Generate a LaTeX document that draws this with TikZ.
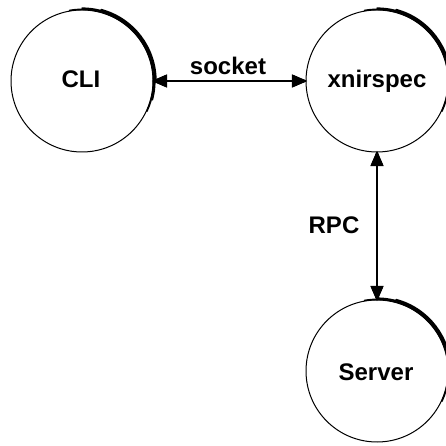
\documentclass[tikz,border=0pt]{standalone}
\usepackage{fontspec}
\setmainfont{Liberation Sans}
\tikzset{
  proc/.style={circle, draw=black, line width=1pt, minimum size=142pt, inner sep=0pt},
  rim/.style={line width=1.6pt, line cap=round, draw=black},
  lbl/.style={font=\fontsize{24}{28}\selectfont\bfseries, anchor=base, inner sep=0pt},
  link/.style={line width=2pt, draw=black},
  headline/.style={line width=1.3pt, draw=black}
}
% heavy, tapering rim on the upper right of a process
\newcommand\procrim[1]{%
  \draw[rim] (#1.center) ++(100:71.6) arc[start angle=100, end angle=-25, radius=71.6];
  \draw[rim] (#1.center) ++(90:72.8) arc[start angle=90, end angle=-15, radius=72.8];
  \draw[rim] (#1.center) ++(75:73.9) arc[start angle=75, end angle=0, radius=73.9];
}
% solid arrowhead built from strokes: tip at #1, pointing towards angle #2
\newcommand\arrowhd[2]{%
  \begin{scope}[shift={(#1)}, rotate=#2]
    \foreach \w in {-6,-5,...,6} \draw[headline] (0,0) -- (-13,\w*0.95);
    \draw[headline, line join=miter] (0,0) -- (-13,5.7) -- (-13,-5.7) -- cycle;
  \end{scope}
}
\begin{document}
\begin{tikzpicture}[x=1pt,y=1pt]
\path[use as bounding box] (0,0) rectangle (445,446);
\node[proc] (cli) at (82,365) {};
\node[proc] (xn) at (377,365) {};
\node[proc] (srv) at (377,75) {};
\procrim{cli}
\procrim{xn}
\procrim{srv}
\node[lbl] at (81,358) {CLI};
\node[lbl] at (377,358) {xnirspec};
\node[lbl] at (376,65) {Server};
% links
\draw[link] (cli) -- (xn);
\draw[link] (xn) -- (srv);
\arrowhd{cli.east}{180}
\arrowhd{xn.west}{0}
\arrowhd{xn.south}{90}
\arrowhd{srv.north}{-90}
\node[lbl] at (228,371) {socket};
\node[lbl] at (334,212) {RPC};
\end{tikzpicture}
\end{document}
